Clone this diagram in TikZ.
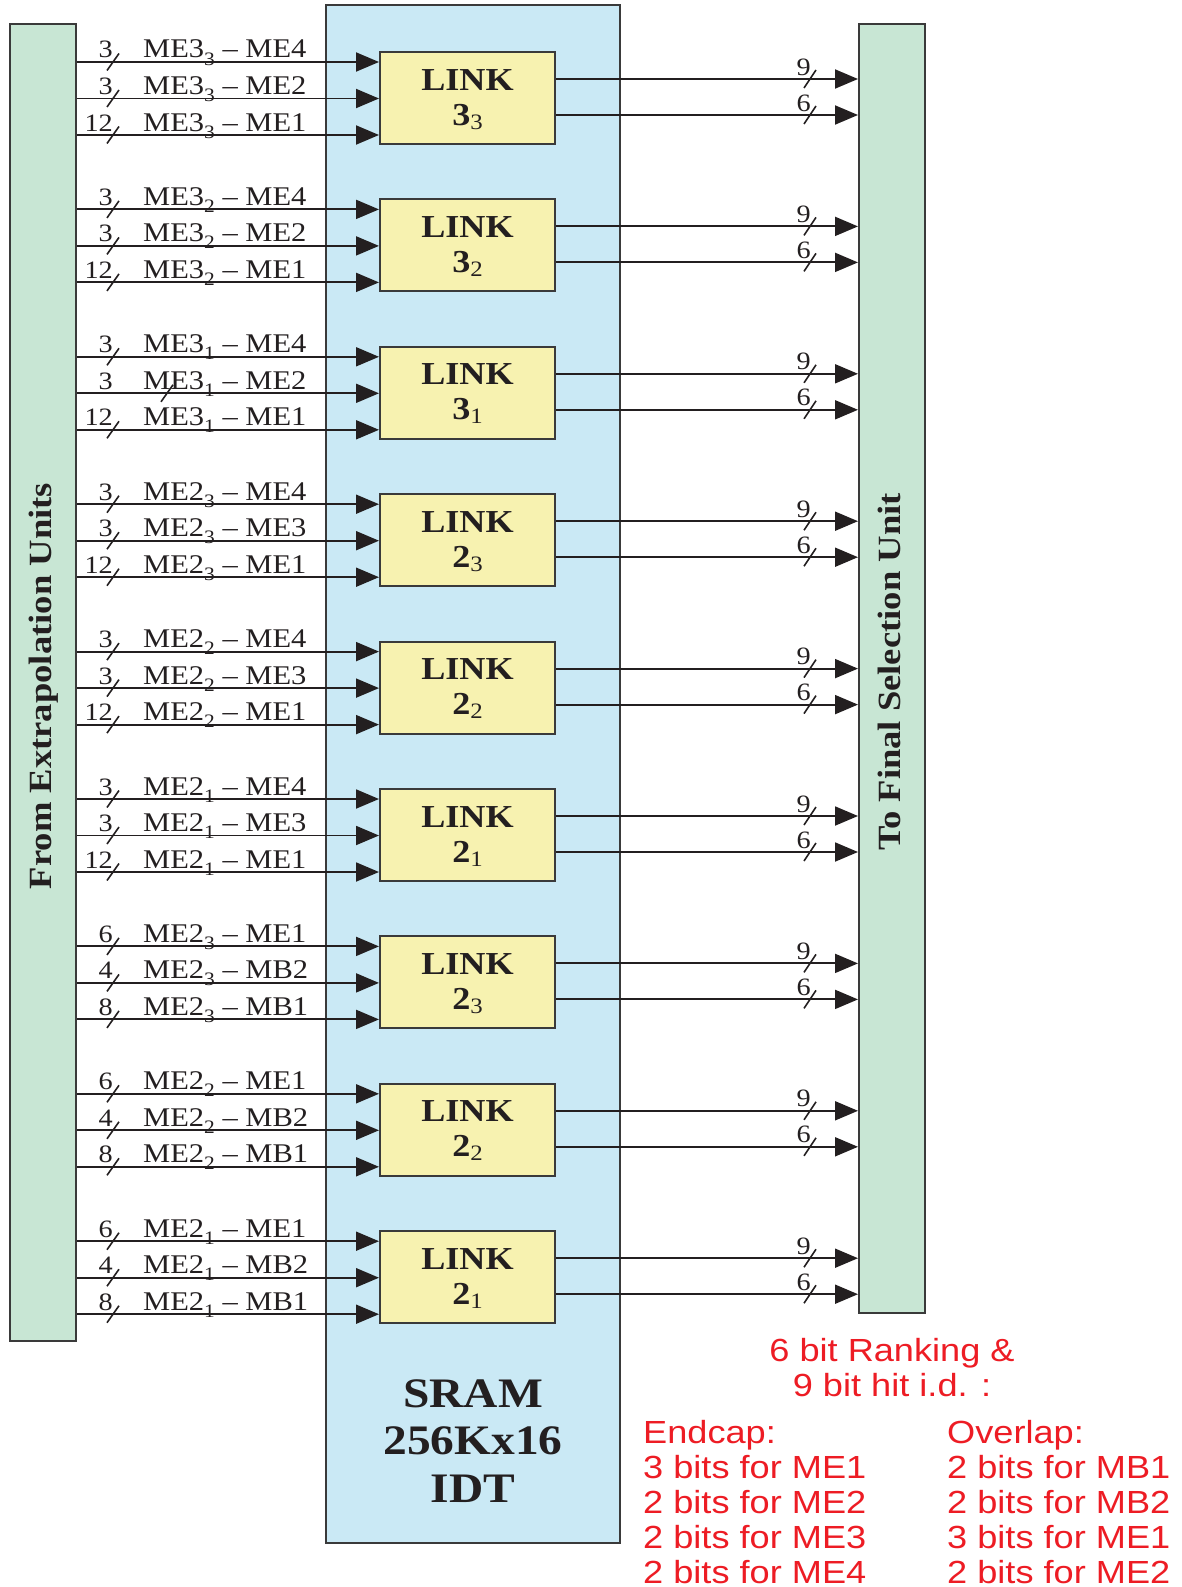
\documentclass[tikz,border=0pt]{standalone}
\usepackage{fontspec}
\setmainfont{Liberation Serif}[FakeStretch=1.13]
\newfontfamily\redfont{Liberation Sans}[FakeStretch=1.13]
\usetikzlibrary{arrows.meta,calc}
\definecolor{boxgreen}{RGB}{200,230,212}
\definecolor{sramblue}{RGB}{202,233,245}
\definecolor{linkyellow}{RGB}{247,242,176}
\definecolor{ink}{RGB}{35,31,32}
\definecolor{redtxt}{RGB}{237,28,36}
\definecolor{bordergray}{RGB}{58,58,58}
\newcommand\sigsub[1]{\raisebox{-0.26em}{\fontsize{19}{19}\selectfont #1}}
\newcommand\lnksub[1]{\raisebox{-4pt}{\fontsize{22}{22}\selectfont\mdseries #1}}
\tikzset{
  unitbox/.style={draw=bordergray, line width=2pt, fill=boxgreen, inner sep=0pt, minimum width=66pt},
  srambox/.style={draw=bordergray, line width=2pt, fill=sramblue, inner sep=0pt, minimum width=294pt, minimum height=1538pt},
  linkbox/.style={draw=bordergray, line width=2pt, fill=linkyellow, minimum width=175pt, minimum height=92pt, inner sep=0pt},
  sig/.style={draw=ink, line width=1.9pt, -{Triangle[length=23pt,width=19pt]}},
  slashmark/.style={draw=ink, line width=1.6pt},
  bits/.style={font=\fontsize{25}{25}\selectfont, inner sep=0pt, anchor=base east, text=ink},
  lab/.style={font=\fontsize{27}{29}\selectfont, inner sep=0pt, anchor=base west, text=ink},
  linkt/.style={font=\bfseries\fontsize{32}{34}\selectfont, inner sep=0pt, anchor=base, text=ink},
  sramt/.style={font=\bfseries\fontsize{42}{46}\selectfont, inner sep=0pt, anchor=base, text=ink},
  sidet/.style={font=\bfseries\fontsize{32.4}{34}\selectfont, inner sep=0pt, anchor=base, rotate=90, text=ink},
  redt/.style={font=\redfont\fontsize{32}{35}\selectfont, inner sep=0pt, text=redtxt},
}
\begin{document}
\begin{tikzpicture}[x=1pt,y=-1pt]
\useasboundingbox (0,0) rectangle (1181,1587);
% main blocks
\node[srambox] (sram) at (473,774) {};
\node[unitbox, minimum height=1317pt] (ext) at (43,682.5) {};
\node[unitbox, minimum height=1289pt] (fsu) at (892,668.5) {};
\node[sidet] (extt) at (51,686) {From Extrapolation Units};
\node[sidet] (fsut) at (900,672) {To Final Selection Unit};
% SRAM text
\node[sramt] (sr1) at (473,1407) {SRAM};
\node[sramt] (sr2) at (473,1454) {256Kx16};
\node[sramt] (sr3) at (473,1502) {IDT};
% links
\foreach \k/\m/\p/\s/\na/\da/\nb/\db/\nc/\dc/\sx in {
  0/3/ME3/3/3/ME4/3/ME2/12/ME1/113,
  1/3/ME3/2/3/ME4/3/ME2/12/ME1/113,
  2/3/ME3/1/3/ME4/3/ME2/12/ME1/167,
  3/2/ME2/3/3/ME4/3/ME3/12/ME1/113,
  4/2/ME2/2/3/ME4/3/ME3/12/ME1/113,
  5/2/ME2/1/3/ME4/3/ME3/12/ME1/113,
  6/2/ME2/3/6/ME1/4/MB2/8/MB1/113,
  7/2/ME2/2/6/ME1/4/MB2/8/MB1/113,
  8/2/ME2/1/6/ME1/4/MB2/8/MB1/113}{
  \pgfmathsetmacro\t{52+147.4*\k}
  \pgfmathsetmacro\ya{\t+10}
  \pgfmathsetmacro\yb{\t+46.5}
  \pgfmathsetmacro\yc{\t+83}
  \pgfmathsetmacro\yo{\t+27}
  \pgfmathsetmacro\yp{\t+63}
  \node[linkbox] (L\k) at (467.5,\t+46) {};
  \node[linkt] (Lt\k) at (467.5,\t+38) {LINK};
  \node[linkt] (Ls\k) at (467.5,\t+73) {\m\lnksub{\s}};
  % inputs
  \coordinate (ia\k) at (ext.east |- 0,\ya);
  \coordinate (ib\k) at (ext.east |- 0,\yb);
  \coordinate (ic\k) at (ext.east |- 0,\yc);
  \draw[sig] (ia\k) -- (ia\k -| L\k.west);
  \draw[sig] (ib\k) -- (ib\k -| L\k.west);
  \draw[sig] (ic\k) -- (ic\k -| L\k.west);
  \node[bits] (na\k) at (113,\ya-4) {\na};
  \node[bits] (nb\k) at (113,\yb-4) {\nb};
  \node[bits] (nc\k) at (113,\yc-4) {\nc};
  \draw[slashmark] (107,\ya+8.5) -- (119,\ya-8.5);
  \draw[slashmark] (\sx-6,\yb+8.5) -- (\sx+6,\yb-8.5);
  \draw[slashmark] (107,\yc+8.5) -- (119,\yc-8.5);
  \node[lab] (ta\k) at (143,\ya-4) {\p\sigsub{\s} \textendash\ \da};
  \node[lab] (tb\k) at (143,\yb-4) {\p\sigsub{\s} \textendash\ \db};
  \node[lab] (tc\k) at (143,\yc-4) {\p\sigsub{\s} \textendash\ \dc};
  % outputs
  \coordinate (oa\k) at (L\k.east |- 0,\yo);
  \coordinate (ob\k) at (L\k.east |- 0,\yp);
  \draw[sig] (oa\k) -- (oa\k -| fsu.west);
  \draw[sig] (ob\k) -- (ob\k -| fsu.west);
  \node[bits] (no\k) at (811,\yo-4) {9};
  \node[bits] (np\k) at (811,\yp-4) {6};
  \draw[slashmark] (804,\yo+9) -- (816,\yo-9);
  \draw[slashmark] (804,\yp+9) -- (816,\yp-9);
}
% red notes
\node[redt, anchor=base] (r1) at (892,1361) {6 bit Ranking \&};
\node[redt, anchor=base] (r2) at (892,1396) {9 bit hit i.d. :};
\node[redt, anchor=base west] (e0) at (643,1443) {Endcap:};
\node[redt, anchor=base west] (e1) at (643,1478) {3 bits for ME1};
\node[redt, anchor=base west] (e2) at (643,1513) {2 bits for ME2};
\node[redt, anchor=base west] (e3) at (643,1548) {2 bits for ME3};
\node[redt, anchor=base west] (e4) at (643,1583) {2 bits for ME4};
\node[redt, anchor=base west] (v0) at (947,1443) {Overlap:};
\node[redt, anchor=base west] (v1) at (947,1478) {2 bits for MB1};
\node[redt, anchor=base west] (v2) at (947,1513) {2 bits for MB2};
\node[redt, anchor=base west] (v3) at (947,1548) {3 bits for ME1};
\node[redt, anchor=base west] (v4) at (947,1583) {2 bits for ME2};
\end{tikzpicture}
\end{document}
